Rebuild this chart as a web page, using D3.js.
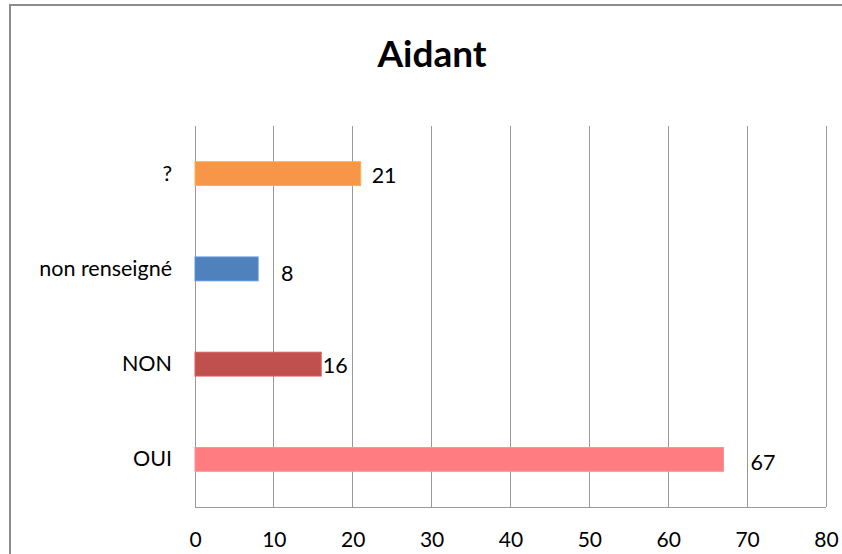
<!DOCTYPE html>
<html><head><meta charset="utf-8">
<script src="https://cdn.jsdelivr.net/npm/d3@7"></script>
<style>html,body{margin:0;padding:0;background:#fff;}svg{display:block;}</style>
</head><body>
<svg id="chart" width="842" height="554"></svg>
<script>
const title = "Aidant";
const categories = ["?", "non renseigné", "NON", "OUI"];
const values = [21, 8, 16, 67];
const colors = ["#F79646", "#4F81BD", "#C0504D", "#FF7C80"];
const xTicks = [0, 10, 20, 30, 40, 50, 60, 70, 80];
const labelOffsets = [11, 23, 1.5, 27];
const labelDy = [2, 5, 1, 3];

const svg = d3.select("#chart");
const font = "Lato, 'Open Sans', sans-serif";
const m = {left: 195, right: 826, top: 126, bottom: 507};

svg.append("rect").attr("x", 10).attr("y", 5).attr("width", 900).attr("height", 600)
  .attr("fill", "#fff").attr("stroke", "#8c8c8c").attr("stroke-width", 2);

svg.append("text").attr("x", 432).attr("y", 67).attr("text-anchor", "middle")
  .attr("font-family", font).attr("font-weight", "bold").attr("font-size", 37)
  .attr("fill", "#000").text(title);

const x = d3.scaleLinear().domain([0, 80]).range([m.left, m.right]);
const y = d3.scaleBand().domain(categories).range([m.top, m.bottom]).paddingInner(0.75).paddingOuter(0.375);

// gridlines
svg.append("g").selectAll("line").data(xTicks).join("line")
  .attr("x1", d => x(d)).attr("x2", d => x(d)).attr("y1", m.top).attr("y2", m.bottom)
  .attr("stroke", "#999").attr("stroke-width", 1).attr("shape-rendering", "crispEdges");
// bottom axis line
svg.append("line").attr("x1", m.left).attr("x2", m.right).attr("y1", m.bottom).attr("y2", m.bottom)
  .attr("stroke", "#999").attr("shape-rendering", "crispEdges");

// x tick labels
const xAxis = d3.axisBottom(x).tickValues(xTicks).tickSize(0).tickPadding(0);
const gx = svg.append("g").attr("transform", `translate(0,${m.bottom + 25})`).call(xAxis);
gx.select(".domain").remove();
gx.selectAll("text").attr("font-family", font).attr("font-size", 21).attr("fill", "#000").attr("dy", "0.71em");

// y labels
const yAxis = d3.axisLeft(y).tickSize(0).tickPadding(23);
const gy = svg.append("g").attr("transform", `translate(${m.left},0)`).call(yAxis);
gy.select(".domain").remove();
gy.selectAll("text").attr("font-family", font).attr("font-size", 21.5).attr("fill", "#000");

// bars
svg.append("g").selectAll("rect").data(values).join("rect")
  .attr("x", x(0)).attr("y", (d, i) => y(categories[i]))
  .attr("width", d => x(d) - x(0)).attr("height", y.bandwidth())
  .attr("fill", (d, i) => colors[i])
  .attr("stroke", (d, i) => d3.color(colors[i]).brighter(0.4)).attr("stroke-width", 1);

// value labels
svg.append("g").selectAll("text").data(values).join("text")
  .attr("x", (d, i) => x(d) + labelOffsets[i])
  .attr("y", (d, i) => y(categories[i]) + y.bandwidth() / 2 + labelDy[i])
  .attr("dy", "0.35em")
  .attr("font-family", font).attr("font-size", 21.5).attr("fill", "#000")
  .text(d => d);
</script>
</body></html>
